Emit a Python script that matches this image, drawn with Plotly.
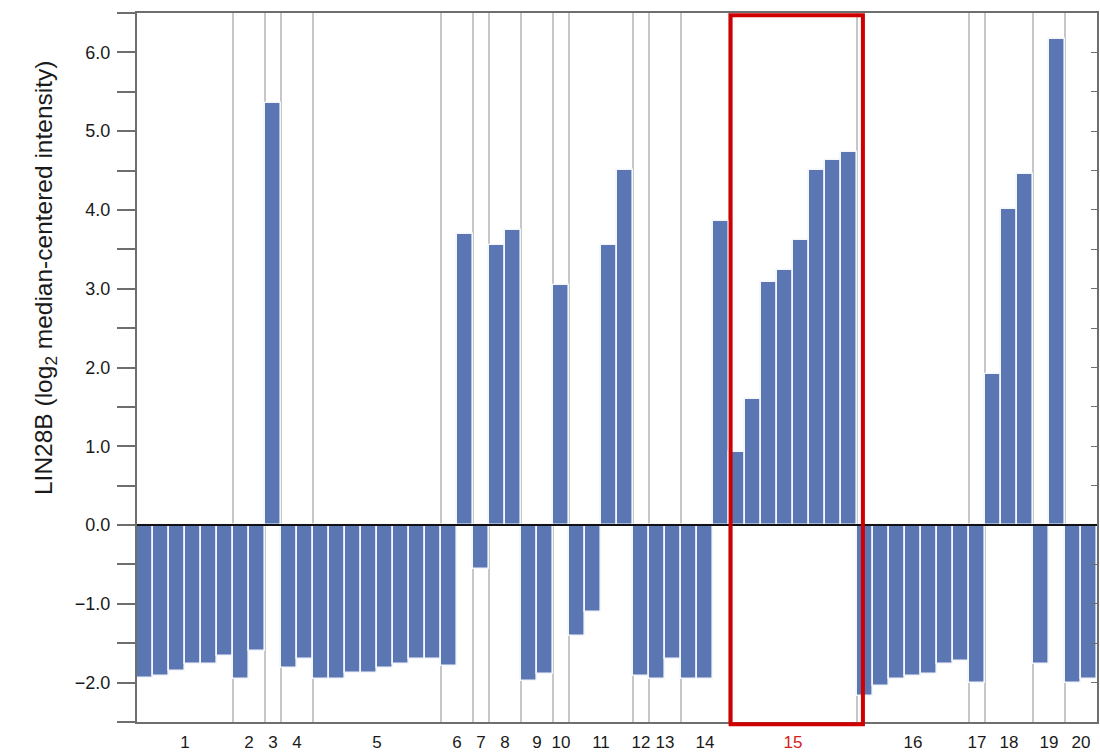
import plotly.graph_objects as go

# Sample groups along the x axis and how many samples each holds
group_labels = ["1", "2", "3", "4", "5", "6", "7", "8", "9", "10",
                "11", "12", "13", "14", "15", "16", "17", "18", "19", "20"]
group_sizes = [6, 2, 1, 2, 8, 2, 1, 2, 2, 1, 4, 1, 2, 3, 8, 7, 1, 3, 2, 2]

# LIN28B log2 median-centered intensity, one value per sample
g01 = [-1.94, -1.91, -1.85, -1.76, -1.76, -1.66]
g02 = [-1.95, -1.60]
g03 = [5.36]
g04 = [-1.82, -1.70]
g05 = [-1.95, -1.95, -1.88, -1.88, -1.82, -1.76, -1.70, -1.70]
g06 = [-1.79, 3.70]
g07 = [-0.56]
g08 = [3.55, 3.74]
g09 = [-1.98, -1.89]
g10 = [3.05]
g11 = [-1.41, -1.10, 3.55, 4.51]
g12 = [-1.91]
g13 = [-1.95, -1.70]
g14 = [-1.95, -1.95, 3.86]
g15 = [0.93, 1.60, 3.08, 3.24, 3.62, 4.51, 4.63, 4.73]
g16 = [-2.17, -2.04, -1.95, -1.91, -1.89, -1.76, -1.73]
g17 = [-2.01]
g18 = [1.92, 4.01, 4.45]
g19 = [-1.76, 6.17]
g20 = [-2.01, -1.95]

highlight_group = "15"
y_title = "LIN28B (log<sub>2</sub> median-centered intensity)"

groups = [g01, g02, g03, g04, g05, g06, g07, g08, g09, g10,
          g11, g12, g13, g14, g15, g16, g17, g18, g19, g20]
values = [v for g in groups for v in g]
xs = list(range(len(values)))

# group boundaries and centres in sample units
starts = []
pos = 0
for n in group_sizes:
    starts.append(pos)
    pos += n
centers = [s + (n - 1) / 2 for s, n in zip(starts, group_sizes)]
tick_text = [f"<span style='color:#d42020'>{g}</span>" if g == highlight_group else g
             for g in group_labels]

BAR = "#5a77b4"
AXIS = "#6e6e6e"
TEXT = "#1a1a1a"

fig = go.Figure()
fig.add_trace(go.Bar(
    x=xs, y=values, width=1.0,
    marker=dict(color=BAR, line=dict(color="#f4f6fb", width=1.6)),
    hoverinfo="x+y", showlegend=False,
))
# carries the right-hand axis
fig.add_trace(go.Scatter(x=xs, y=values, mode="none", yaxis="y2",
                         hoverinfo="skip", showlegend=False))

shapes = []
# thin separators between groups, drawn behind the bars
for s in starts[1:]:
    shapes.append(dict(type="line", xref="x", yref="paper", x0=s - 0.5, x1=s - 0.5,
                       y0=0, y1=1, layer="below",
                       line=dict(color="#b4b4b4", width=1.5)))
# zero line
shapes.append(dict(type="line", xref="paper", yref="y", x0=0, x1=1, y0=0, y1=0,
                   line=dict(color="#111111", width=2)))
# frame around the highlighted group
hi = group_labels.index(highlight_group)
hs, hn = starts[hi], group_sizes[hi]
shapes.append(dict(type="rect", xref="x", yref="paper",
                   x0=hs - 0.4, x1=hs + hn - 0.13, y0=-0.003, y1=0.997,
                   line=dict(color="#d00000", width=4), fillcolor="rgba(0,0,0,0)"))

fig.update_layout(
    width=1100, height=755,
    margin=dict(l=137, r=3, t=13, b=33),
    paper_bgcolor="white", plot_bgcolor="white",
    font=dict(family="Liberation Sans, Arial, sans-serif", color=TEXT),
    bargap=0,
    shapes=shapes,
    annotations=[dict(
        text=y_title, xref="paper", yref="paper", x=-0.096, y=0.626,
        xanchor="center", yanchor="middle", textangle=-90, showarrow=False,
        font=dict(size=24.5, color=TEXT),
    )],
    xaxis=dict(
        range=[-0.5, len(values) - 0.5], automargin=False,
        showgrid=False, zeroline=False,
        showline=True, linecolor=AXIS, linewidth=2, mirror=True,
        tickmode="array", tickvals=centers, ticktext=tick_text,
        ticks="", tickfont=dict(size=17, color=TEXT),
        ticklabelstandoff=4,
    ),
    yaxis=dict(
        range=[-2.5, 6.5], automargin=False,
        showgrid=False, zeroline=False,
        showline=True, linecolor=AXIS, linewidth=2,
        tickmode="linear", tick0=0, dtick=1, tickformat=".1f",
        ticks="outside", ticklen=18, tickwidth=1.5, tickcolor=AXIS,
        minor=dict(dtick=0.5, tick0=0, ticks="outside", ticklen=18,
                   tickwidth=1.5, tickcolor=AXIS),
        tickfont=dict(size=18, color=TEXT),
        ticklabelstandoff=3,
    ),
    yaxis2=dict(
        range=[-2.5, 6.5], overlaying="y", side="right", automargin=False,
        showgrid=False, zeroline=False,
        showline=True, linecolor=AXIS, linewidth=2,
        showticklabels=False,
        tickmode="linear", tick0=0, dtick=1,
        ticks="inside", ticklen=6, tickwidth=1.2, tickcolor=AXIS,
        minor=dict(dtick=0.5, tick0=0, ticks="inside", ticklen=6,
                   tickwidth=1.2, tickcolor=AXIS),
    ),
)

fig.write_html("out.html")
